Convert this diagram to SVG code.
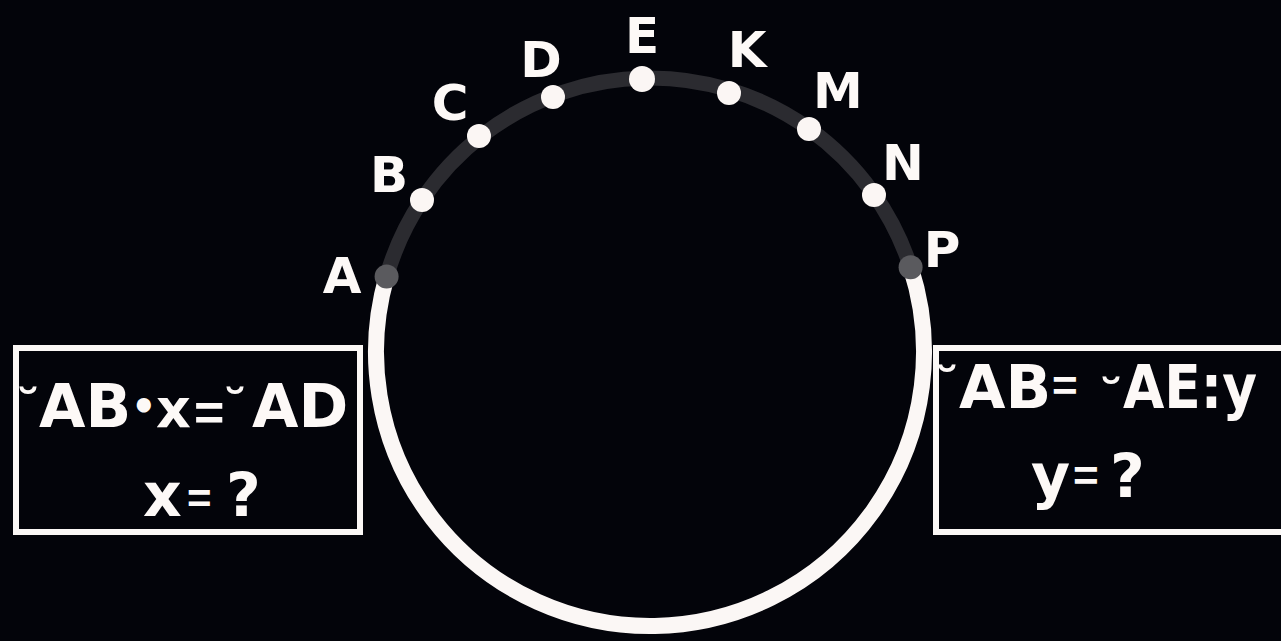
<svg xmlns="http://www.w3.org/2000/svg" width="1281" height="641" viewBox="0 0 1281 641">
<style>
.lbl{font-family:"DejaVu Sans",sans-serif;font-weight:bold;font-size:50px;fill:#fdf9f7;text-anchor:middle}
.eq{font-family:"DejaVu Sans",sans-serif;font-weight:bold;font-size:60px;fill:#fdf9f7}
.br{font-size:52px}
.eqs{font-family:"Liberation Sans",sans-serif}
.dot{fill:#fbf6f4}
.gdot{fill:#5a5a5e}
.box{fill:none;stroke:#fbf8f6;stroke-width:6}
</style>
<rect width="1281" height="641" fill="#03040a"/>
<g id="connectors">
<path d="M 386.6 276.5 A 274 274 0 0 1 910.6 267.3" fill="none" stroke="#2b2b30" stroke-width="15"/>
<path d="M 910.6 267.3 A 274 274 0 1 1 386.6 276.5" fill="none" stroke="#fbf7f5" stroke-width="16"/>
</g>
<g id="node-A"><circle class="gdot" cx="386.6" cy="276.5" r="12"/><text class="lbl" x="342" y="293">A</text></g>
<g id="node-B"><circle class="dot" cx="422" cy="200" r="12"/><text class="lbl" x="389" y="192">B</text></g>
<g id="node-C"><circle class="dot" cx="479" cy="136" r="12"/><text class="lbl" x="450" y="120">C</text></g>
<g id="node-D"><circle class="dot" cx="553" cy="97" r="12"/><text class="lbl" x="541" y="77">D</text></g>
<g id="node-E"><circle class="dot" cx="642" cy="79" r="13"/><text class="lbl" x="642" y="53">E</text></g>
<g id="node-K"><circle class="dot" cx="729" cy="93" r="12"/><text class="lbl" x="747" y="67">K</text></g>
<g id="node-M"><circle class="dot" cx="809" cy="129" r="12"/><text class="lbl" x="838" y="108">M</text></g>
<g id="node-N"><circle class="dot" cx="874" cy="195" r="12"/><text class="lbl" x="903" y="180">N</text></g>
<g id="node-P"><circle class="gdot" cx="910.6" cy="267.3" r="12"/><text class="lbl" x="942" y="267">P</text></g>
<g id="box-left">
<rect class="box" x="16" y="348" width="344" height="184"/>
<text class="eq" y="427"><tspan class="br" x="15" y="427">˘</tspan><tspan x="39" y="427">AB</tspan><tspan font-size="40" x="131" y="420">•</tspan><tspan font-size="54" x="156" y="427">x</tspan><tspan class="eqs" font-size="52" x="194" y="430">=</tspan><tspan class="br" x="222" y="427">˘</tspan><tspan x="252" y="427">AD</tspan></text>
<text class="eq" y="516"><tspan x="143">x</tspan><tspan class="eqs" font-size="42" x="187" y="513">=</tspan><tspan x="226" y="516">?</tspan></text>
</g>
<g id="box-right">
<rect class="box" x="936" y="348" width="360" height="184"/>
<text class="eq" y="408"><tspan class="br" x="934" y="405">˘</tspan><tspan x="959" y="408">AB</tspan><tspan class="eqs" font-size="44" x="1052" y="401">=</tspan><tspan class="br" x="1098" y="417">˘</tspan><tspan x="1123" y="408" textLength="134" lengthAdjust="spacingAndGlyphs">AE:y</tspan></text>
<text class="eq" y="497"><tspan x="1031">y</tspan><tspan class="eqs" font-size="44" x="1073" y="491">=</tspan><tspan x="1110" y="497">?</tspan></text>
</g>
</svg>
